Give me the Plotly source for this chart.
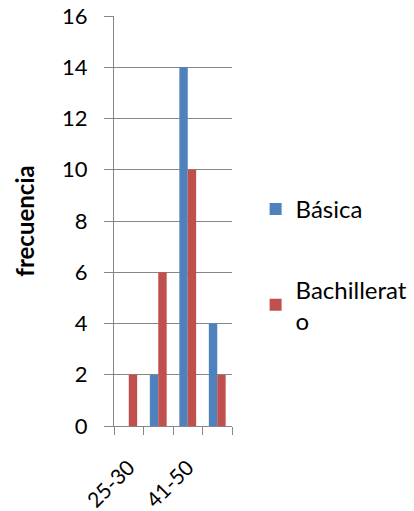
import plotly.graph_objects as go

categorias = ["25-30", "31-40", "41-50", "51-60"]
etiquetas = ["25-30", "", "41-50", ""]
basica = [0, 2, 14, 4]
bachillerato = [2, 6, 10, 2]
y_ticks = [0, 2, 4, 6, 8, 10, 12, 14, 16]

FONT = "Lato"
GRID = "#868686"

fig = go.Figure()
fig.add_trace(go.Bar(x=categorias, y=basica, name="Básica",
                     marker=dict(color="#4F81BD", line=dict(width=0)),
                     legendgroup="a"))
fig.add_trace(go.Bar(x=categorias, y=bachillerato, name="Bachillerat<br>o",
                     marker=dict(color="#C0504D", line=dict(width=0)),
                     legendgroup="b"))

fig.update_layout(
    width=414, height=511,
    margin=dict(l=114, r=182, t=16, b=85, autoexpand=False),
    paper_bgcolor="white", plot_bgcolor="white",
    barmode="group", bargap=0.43, bargroupgap=0,
    font=dict(family=FONT, color="black"),
    showlegend=True,
    legend=dict(x=1.20, y=0.583, xanchor="left", yanchor="top",
                font=dict(size=24, family=FONT), traceorder="grouped",
                tracegroupgap=46, itemwidth=30, bgcolor="rgba(0,0,0,0)"),
    xaxis=dict(type="category", tickmode="array", tickvals=categorias,
               ticktext=etiquetas, tickson="boundaries", ticks="outside",
               ticklen=8, tickcolor=GRID, showline=True, linecolor=GRID,
               linewidth=1, showgrid=False, tickangle=-45, automargin=False,
               ticklabelstandoff=20, ticklabeloverflow="allow",
               tickfont=dict(size=21, family=FONT)),
    yaxis=dict(range=[0, 16], tickmode="array", tickvals=y_ticks,
               ticks="outside", ticklen=9, tickcolor=GRID, showline=True,
               linecolor=GRID, linewidth=1, showgrid=True, gridcolor=GRID,
               gridwidth=1, zeroline=False, automargin=True,
               ticklabelstandoff=12, ticklabeloverflow="allow",
               tickfont=dict(size=22, family=FONT),
               title=dict(text="<b>frecuencia</b>", font=dict(size=24, family=FONT),
                          standoff=20)),
)

# remove the browser's default 8px body margin so the figure sits at (0, 0)
fig.write_html("out.html", config={"displayModeBar": False},
               post_script="document.body.style.margin='0';")
